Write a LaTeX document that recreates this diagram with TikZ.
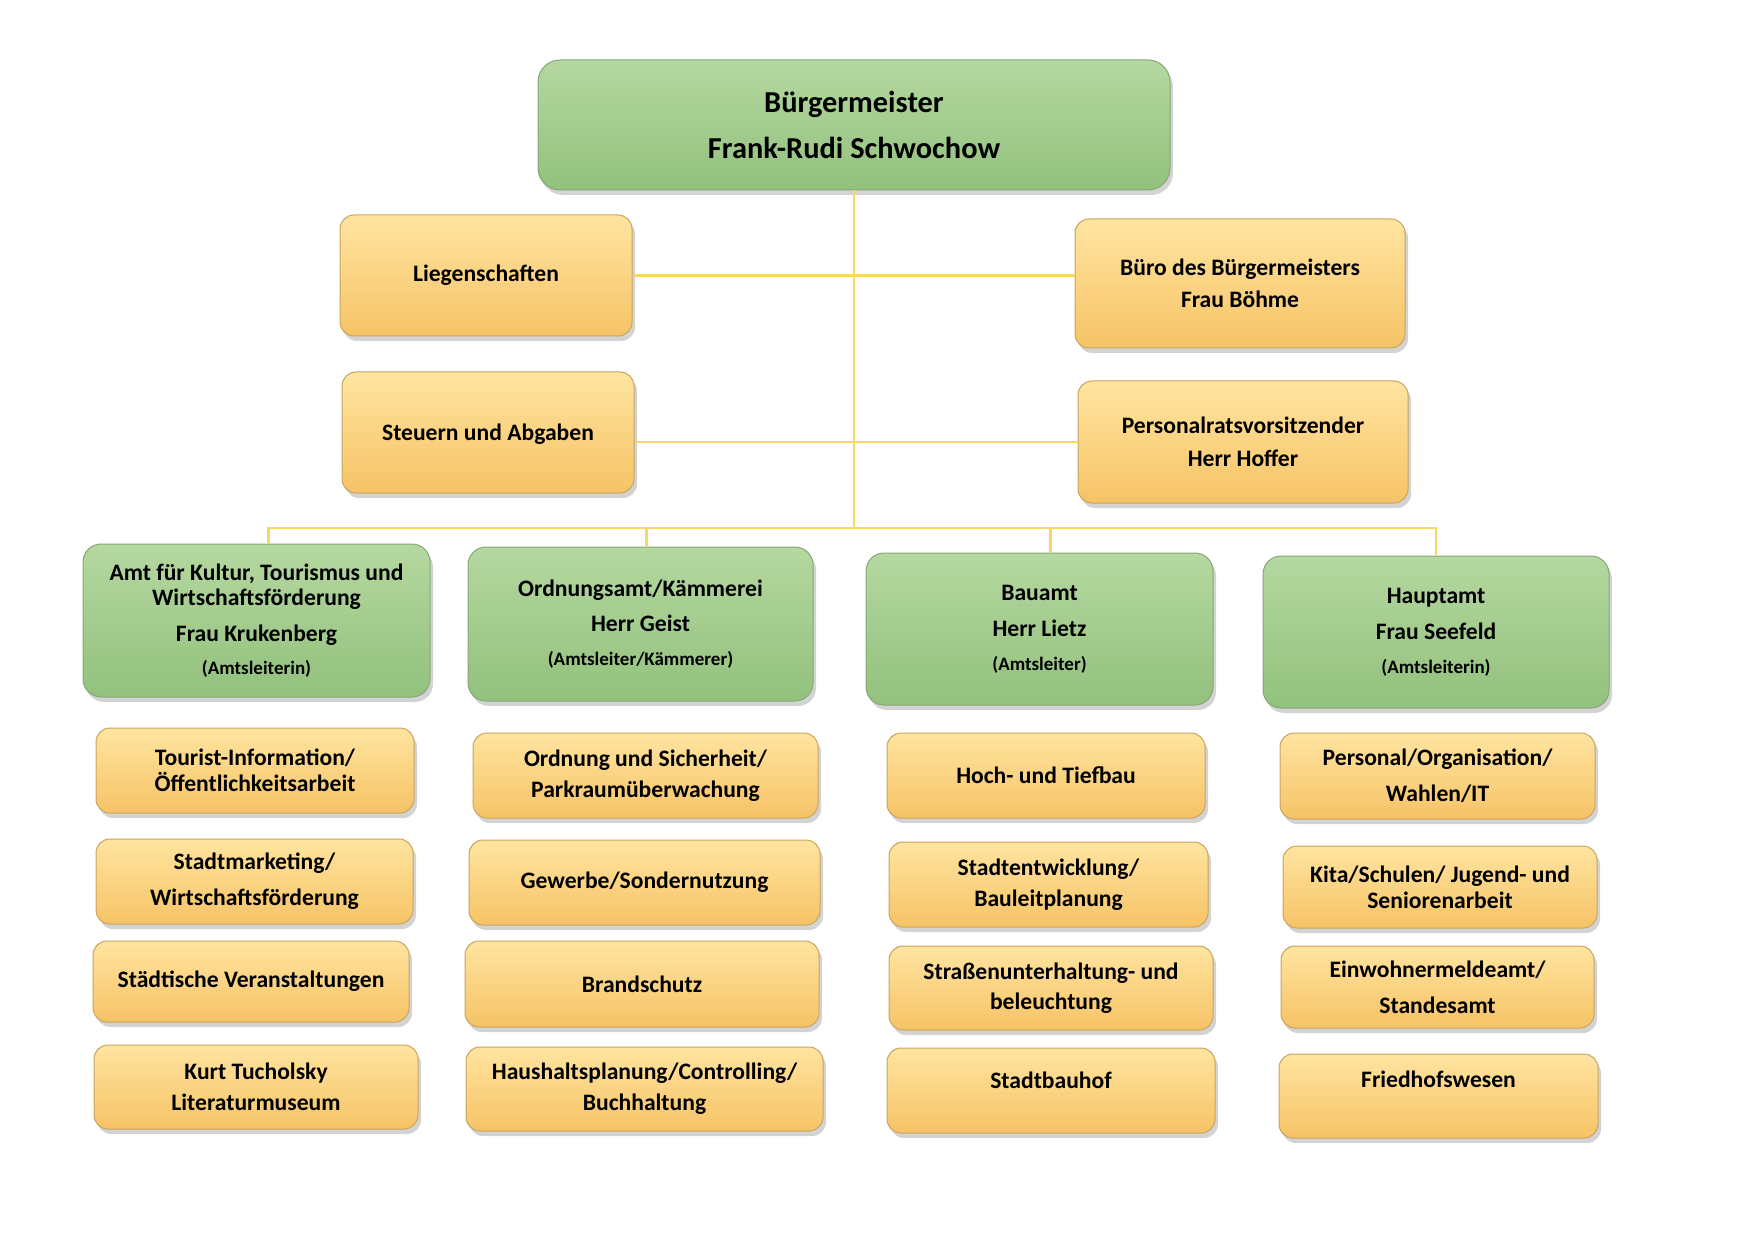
\documentclass[tikz,border=0pt]{standalone}
\usepackage{fontspec}
\setmainfont{Carlito}
\usetikzlibrary{shadows}

\definecolor{greentop}{HTML}{B5D8A0}
\definecolor{greenmid}{HTML}{A6CF8E}
\definecolor{greenbot}{HTML}{92C17D}
\definecolor{greenline}{HTML}{86A878}
\definecolor{yellowtop}{HTML}{FFE4A0}
\definecolor{yellowmid}{HTML}{FCD98A}
\definecolor{yellowbot}{HTML}{F6C366}
\definecolor{yellowline}{HTML}{C9A460}
\definecolor{linkcol}{HTML}{F8D766}

\tikzset{every picture/.style={line width=0.5pt}}
\tikzset{
  box/.style={rounded corners=9pt, align=center, inner sep=2pt,
    font=\bfseries\fontsize{11.8}{12.9}\selectfont,
    drop shadow={shadow xshift=1.5pt, shadow yshift=-2.5pt, opacity=0.35}},
  greenbox/.style={box, draw=greenline, top color=greentop, middle color=greenmid, bottom color=greenbot},
  yellowbox/.style={box, rounded corners=7pt, draw=yellowline, top color=yellowtop,
    middle color=yellowmid, bottom color=yellowbot},
  link/.style={draw=linkcol, line width=1.1pt}
}
\newcommand{\sml}[1]{{\fontsize{9.5}{11}\selectfont #1}}

\begin{document}
\begin{tikzpicture}[x=0.5pt,y=0.5pt,yscale=-1,xscale=1]
\useasboundingbox (0,0) rectangle (1754,1240);

%Shape: Top
\node [greenbox, minimum width=316pt, minimum height=65pt, rounded corners=11pt,
  font=\bfseries\fontsize{15.2}{23}\selectfont] (top) at (854,125)
  {Bürgermeister\\Frank-Rudi Schwochow};

%Shape: Staff units
\node [yellowbox, minimum width=146pt, minimum height=60.5pt] (lieg) at (486,275.5) {Liegenschaften};
\node [yellowbox, minimum width=165pt, minimum height=64.5pt] (buero) at (1240,283.5) {Büro des Bürgermeisters\\[2.8pt]Frau Böhme};
\node [yellowbox, minimum width=146pt, minimum height=60.5pt, text depth=0pt] (steuern) at (488,432.5) {Steuern und Abgaben};
\node [yellowbox, minimum width=165pt, minimum height=61pt] (personal) at (1243,442) {Personalratsvorsitzender\\[3.3pt]Herr Hoffer};

%Shape: Departments
\node [greenbox, minimum width=173.5pt, minimum height=76.5pt] (kultur) at (256.5,620.5)
  {Amt für Kultur, Tourismus und\\Wirtschaftsförderung\\[5pt]Frau Krukenberg\\[3.5pt]\sml{(Amtsleiterin)}};
\node [greenbox, minimum width=172.5pt, minimum height=77pt] (ordnungsamt) at (640.5,624)
  {Ordnungsamt/Kämmerei\\[5pt]Herr Geist\\[4pt]\sml{(Amtsleiter/Kämmerer)}};
\node [greenbox, minimum width=173.5pt, minimum height=76pt] (bauamt) at (1039.5,629)
  {Bauamt\\[5pt]Herr Lietz\\[4pt]\sml{(Amtsleiter)}};
\node [greenbox, minimum width=173pt, minimum height=76pt] (hauptamt) at (1436,632)
  {Hauptamt\\[5pt]Frau Seefeld\\[4pt]\sml{(Amtsleiterin)}};

%Shape: Kultur column
\node [yellowbox, minimum width=159pt, minimum height=42.5pt] (tourist) at (255,770.5) {Tourist-Information/\\Öffentlichkeitsarbeit};
\node [yellowbox, minimum width=158.5pt, minimum height=42.5pt] (marketing) at (254.5,881.5) {Stadtmarketing/\\[5pt]Wirtschaftsförderung};
\node [yellowbox, minimum width=158pt, minimum height=40.5pt] (veranst) at (251,981.5) {Städtische Veranstaltungen};
\node [yellowbox, minimum width=162pt, minimum height=42pt] (museum) at (256,1087) {Kurt Tucholsky\\[2.8pt]Literaturmuseum};

%Shape: Ordnungsamt column
\node [yellowbox, minimum width=172.5pt, minimum height=42.5pt] (sicherheit) at (645.5,775.5) {Ordnung und Sicherheit/\\[2.8pt]Parkraumüberwachung};
\node [yellowbox, minimum width=175.5pt, minimum height=42.5pt] (gewerbe) at (644.5,882.5) {Gewerbe/Sondernutzung};
\node [yellowbox, minimum width=177pt, minimum height=43pt] (brand) at (642,984) {Brandschutz};
\node [yellowbox, minimum width=178.5pt, minimum height=42pt] (haushalt) at (644.5,1089) {Haushaltsplanung/Controlling/\\[2.8pt]Buchhaltung};

%Shape: Bauamt column
\node [yellowbox, minimum width=159pt, minimum height=42.5pt] (hochbau) at (1046,775.5) {Hoch- und Tiefbau};
\node [yellowbox, minimum width=159.5pt, minimum height=42.5pt] (planung) at (1048.5,884.5) {Stadtentwicklung/\\[2.8pt]Bauleitplanung};
\node [yellowbox, minimum width=162pt, minimum height=42pt] (strasse) at (1051,988) {Straßenunterhaltung- und\\[2.2pt]beleuchtung};
\node [yellowbox, minimum width=164pt, minimum height=42.5pt, text depth=10pt] (bauhof) at (1051,1090.5) {Stadtbauhof};

%Shape: Hauptamt column
\node [yellowbox, minimum width=157.5pt, minimum height=43pt] (orga) at (1437.5,776) {Personal/Organisation/\\[5pt]Wahlen/IT};
\node [yellowbox, minimum width=157pt, minimum height=41pt] (kita) at (1440,887) {Kita/Schulen/ Jugend- und\\Seniorenarbeit};
\node [yellowbox, minimum width=156.5pt, minimum height=41pt] (melde) at (1437.5,987) {Einwohnermeldeamt/\\[5pt]Standesamt};
\node [yellowbox, minimum width=159.5pt, minimum height=42pt, text depth=17pt] (friedhof) at (1438.5,1096) {Friedhofswesen};

%Straight Lines
\coordinate (bus) at (854,528);
\draw [link] (top.south) -- (top.south |- bus);
\draw [link] (lieg.east) -- (lieg.east -| buero.west);
\draw [link] (steuern.east |- personal.west) -- (personal.west);
\draw [link] ([xshift=6pt]kultur.north) |- (bus) -| (hauptamt.north);
\draw [link] ([xshift=3pt]ordnungsamt.north) -- ([xshift=3pt]ordnungsamt.north |- bus);
\draw [link] ([xshift=5.5pt]bauamt.north) -- ([xshift=5.5pt]bauamt.north |- bus);

\end{tikzpicture}
\end{document}
